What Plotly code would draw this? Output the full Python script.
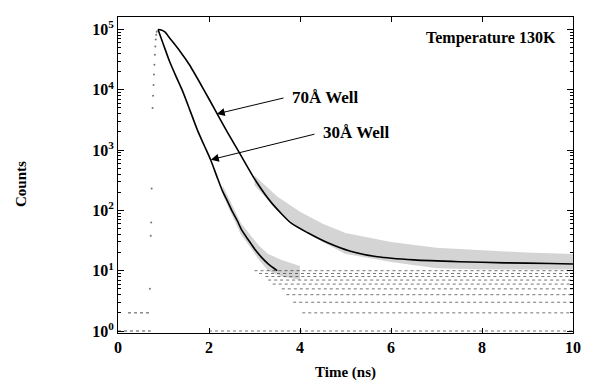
import plotly.graph_objects as go

# ---- data ----
t_70 = [0.88, 0.95, 1.03, 1.13, 1.35, 1.57, 1.85, 2.15, 2.40, 2.65, 3.02, 3.38, 3.80, 4.17, 4.61, 5.11, 5.70, 6.5, 7.5, 8.5, 9.5, 10.0]
c_70 = [100000, 98000, 91000, 73000, 45000, 26000, 11200, 4400, 2000, 955, 316, 132, 62, 42.5, 29, 21, 17, 15.1, 14.1, 13.5, 13.2, 12.9]

t_30 = [0.88, 1.0, 1.13, 1.27, 1.42, 1.58, 1.75, 1.90, 2.04, 2.17, 2.29, 2.40, 2.50, 2.62, 2.72, 2.87, 3.02, 3.16, 3.30, 3.5]
c_30 = [100000, 56000, 30000, 17000, 9500, 4600, 2100, 1170, 680, 370, 215, 145, 100, 68, 47, 32, 22, 16.5, 13, 10]

# scatter envelopes of the noisy tails
t_band70 = [3.0, 3.5, 4.0, 4.5, 5.0, 6.0, 7.0, 8.0, 9.0, 10.0]
up_70 = [380, 170, 95, 60, 42, 30, 24, 22, 20, 19]
lo_70 = [260, 100, 50, 30, 19, 14, 11, 10.5, 10.5, 10.5]

t_band30 = [2.3, 2.5, 2.7, 2.9, 3.1, 3.3, 3.6, 4.0]
up_30 = [260, 125, 62, 40, 26, 19, 15, 12]
lo_30 = [180, 82, 40, 25, 15, 10, 8, 7]

# integer count levels of the flat background and where they begin
floor_counts = [1, 2, 3, 4, 5, 6, 7, 8, 9, 10]
floor_start = [2.0, 4.05, 3.85, 3.7, 3.6, 3.4, 3.3, 3.24, 3.1, 3.0]
t_end = 10.0

# pre-pulse background
pre_counts = [1, 2]
pre_start = [0.0, 0.22]
pre_end = [0.72, 0.72]

# rising edge dots
t_rise = [0.70, 0.72, 0.73, 0.74, 0.76, 0.77, 0.78, 0.79, 0.80, 0.81, 0.82, 0.83, 0.84, 0.85]
c_rise = [5, 38, 63, 230, 5000, 8000, 12000, 18000, 26000, 38000, 52000, 68000, 82000, 92000]

fig = go.Figure()

# bands
fig.add_trace(go.Scatter(x=t_band70, y=lo_70, mode="lines", line=dict(width=0), showlegend=False, hoverinfo="skip"))
fig.add_trace(go.Scatter(x=t_band70, y=up_70, mode="lines", line=dict(width=0), fill="tonexty",
                         fillcolor="rgba(0,0,0,0.17)", showlegend=False, hoverinfo="skip"))
fig.add_trace(go.Scatter(x=t_band30, y=lo_30, mode="lines", line=dict(width=0), showlegend=False, hoverinfo="skip"))
fig.add_trace(go.Scatter(x=t_band30, y=up_30, mode="lines", line=dict(width=0), fill="tonexty",
                         fillcolor="rgba(0,0,0,0.17)", showlegend=False, hoverinfo="skip"))

# floor levels
fx, fy = [], []
for c, s in zip(floor_counts, floor_start):
    fx += [s, t_end, None]
    fy += [c, c, None]
fig.add_trace(go.Scatter(x=fx, y=fy, mode="lines", line=dict(color="rgba(0,0,0,0.55)", width=1, dash="dot"),
                         showlegend=False, hoverinfo="skip"))

px, py = [], []
for c, s, e in zip(pre_counts, pre_start, pre_end):
    px += [s, e, None]
    py += [c, c, None]
fig.add_trace(go.Scatter(x=px, y=py, mode="lines", line=dict(color="rgba(0,0,0,0.7)", width=1, dash="dot"),
                         showlegend=False, hoverinfo="skip"))

fig.add_trace(go.Scatter(x=t_rise, y=c_rise, mode="markers", marker=dict(color="rgba(0,0,0,0.55)", size=2),
                         showlegend=False, hoverinfo="skip"))

# main curves
fig.add_trace(go.Scatter(x=t_70, y=c_70, mode="lines", line=dict(color="black", width=1.6, shape="spline", smoothing=0.6),
                         showlegend=False))
fig.add_trace(go.Scatter(x=t_30, y=c_30, mode="lines", line=dict(color="black", width=1.6, shape="spline", smoothing=0.6),
                         showlegend=False))

serif = "Liberation Serif, Times New Roman, serif"
bold = dict(family=serif, size=16, color="black", weight="bold")
lab = dict(family=serif, size=16, color="black")

ann = [
    dict(x=2.17, y=3.60, ax=3.67, ay=3.87, xref="x", yref="y", axref="x", ayref="y", text="",
         showarrow=True, arrowhead=2, arrowsize=1.6, arrowwidth=1, arrowcolor="black", standoff=0),
    dict(x=2.04, y=2.84, ax=4.35, ay=3.27, xref="x", yref="y", axref="x", ayref="y", text="",
         showarrow=True, arrowhead=2, arrowsize=1.6, arrowwidth=1, arrowcolor="black", standoff=0),
    dict(x=3.78, y=3.88, xref="x", yref="y", text="<b>70Å Well</b>", showarrow=False, xanchor="left",
         yanchor="middle", font=dict(family=serif, size=17, color="black")),
    dict(x=4.46, y=3.29, xref="x", yref="y", text="<b>30Å Well</b>", showarrow=False, xanchor="left",
         yanchor="middle", font=dict(family=serif, size=17, color="black")),
    dict(x=9.67, y=4.86, xref="x", yref="y", text="<b>Temperature 130K</b>", showarrow=False, xanchor="right",
         yanchor="middle", font=lab),
    dict(x=-0.212, y=0.47, xref="paper", yref="paper", text="<b>Counts</b>", showarrow=False, textangle=-90,
         xanchor="center", yanchor="middle", font=dict(family=serif, size=15, color="black")),
    dict(x=0.5, y=-0.126, xref="paper", yref="paper", text="<b>Time (ns)</b>", showarrow=False,
         xanchor="center", yanchor="middle", font=dict(family=serif, size=15, color="black")),
]

minor_y = [m * 10 ** d for d in range(0, 5) for m in range(2, 10)]

# page body has an 8px margin, so the figure is shrunk and shifted to land on the reference pixels
fig.update_layout(
    width=581, height=375,
    margin=dict(l=110, r=9, t=8, b=50),
    plot_bgcolor="white", paper_bgcolor="white",
    annotations=ann,
    showlegend=False,
)
fig.update_xaxes(range=[0, 10], tickvals=[0, 2, 4, 6, 8, 10], ticks="inside", ticklen=5,
                 showline=True, linecolor="black", linewidth=1, mirror="ticks", showgrid=False, zeroline=False,
                 tickfont=bold, tickcolor="black")
fig.update_yaxes(type="log", range=[-0.033, 5.207], tickvals=[1, 10, 100, 1000, 10000, 100000],
                 ticktext=["10<sup>0</sup>", "10<sup>1</sup>", "10<sup>2</sup>", "10<sup>3</sup>",
                           "10<sup>4</sup>", "10<sup>5</sup>"],
                 ticks="inside", ticklen=6, tickcolor="black",
                 minor=dict(tickvals=minor_y, ticks="inside", ticklen=3, tickcolor="black", showgrid=False),
                 showline=True, linecolor="black", linewidth=1, mirror="ticks", showgrid=False, zeroline=False,
                 tickfont=bold)

fig.write_html("out.html")
